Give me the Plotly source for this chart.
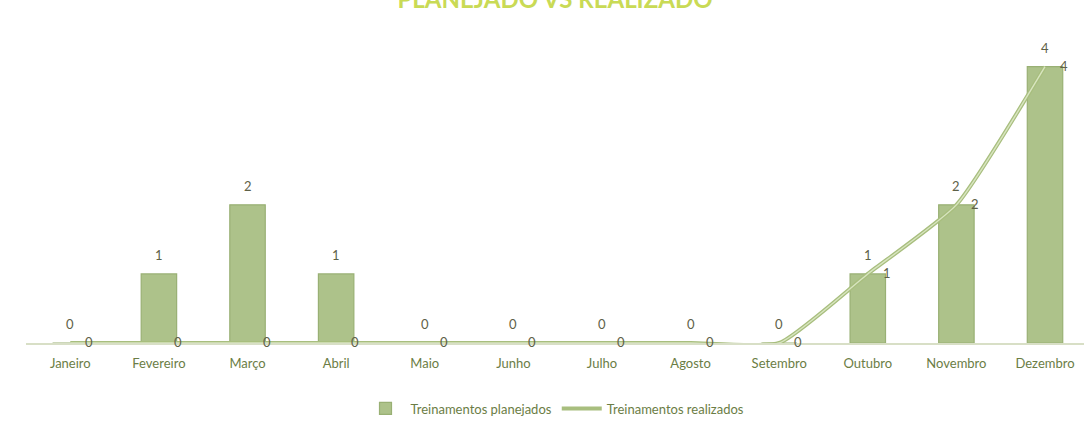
import plotly.graph_objects as go

meses = ["Janeiro", "Fevereiro", "Março", "Abril", "Maio", "Junho", "Julho",
         "Agosto", "Setembro", "Outubro", "Novembro", "Dezembro"]
planejados = [0, 1, 2, 1, 0, 0, 0, 0, 0, 1, 2, 4]
realizados = [0, 0, 0, 0, 0, 0, 0, 0, 0, 1, 2, 4]

font_fam = "Lato, 'Open Sans', sans-serif"
txt_col = "#6b7d45"
lbl_col = "#5e6148"

fig = go.Figure()
fig.add_trace(go.Bar(
    x=meses, y=planejados, name="Treinamentos planejados",
    marker=dict(color="#adc28a", line=dict(color="#99b074", width=1.2)),
    width=0.4, cliponaxis=False,
))
fig.add_trace(go.Scatter(
    x=meses, y=realizados, name="Treinamentos realizados",
    mode="lines", line=dict(color="#a8be7e", width=4, shape="spline", smoothing=0.5),
    cliponaxis=False,
))
fig.add_trace(go.Scatter(
    x=meses, y=realizados, showlegend=False, hoverinfo="skip",
    mode="lines", line=dict(color="#d8e5c0", width=1.4, shape="spline", smoothing=0.5),
    cliponaxis=False,
))

annotations = []
for m, v in zip(meses, planejados):
    annotations.append(dict(x=m, y=v, xref="x", yref="y", text=str(v), showarrow=False,
                            yshift=19, font=dict(size=13, color=lbl_col, family=font_fam)))
for m, v in zip(meses, realizados):
    annotations.append(dict(x=m, y=v, xref="x", yref="y", text=str(v), showarrow=False,
                            xshift=19, yshift=1, font=dict(size=13, color=lbl_col, family=font_fam)))

fig.update_layout(
    width=1084, height=428,
    margin=dict(l=26, r=0, t=46, b=85),
    paper_bgcolor="white", plot_bgcolor="white",
    title=dict(text="<b>PLANEJADO VS REALIZADO</b>", x=0.512, xanchor="center",
               y=1.0, yref="container", yanchor="middle",
               font=dict(size=24, color="#c9da55", family=font_fam)),
    font=dict(family=font_fam, color=txt_col, size=13),
    xaxis=dict(range=[-0.5, 11.44], showgrid=False, showline=True,
               linecolor="#d8dfc6", linewidth=1.5, ticks="outside", ticklen=8,
               tickcolor="rgba(0,0,0,0)",
               tickfont=dict(size=13, color=txt_col)),
    yaxis=dict(range=[0, 4.3], visible=False),
    showlegend=True,
    legend=dict(orientation="h", x=0.5, xanchor="center", y=-0.17, yanchor="top",
                font=dict(size=13, color=txt_col), itemwidth=40),
    annotations=annotations,
)

fig.write_html("out.html", config={"displayModeBar": False},
               post_script="document.body.style.margin='0';document.body.style.overflow='hidden';")
